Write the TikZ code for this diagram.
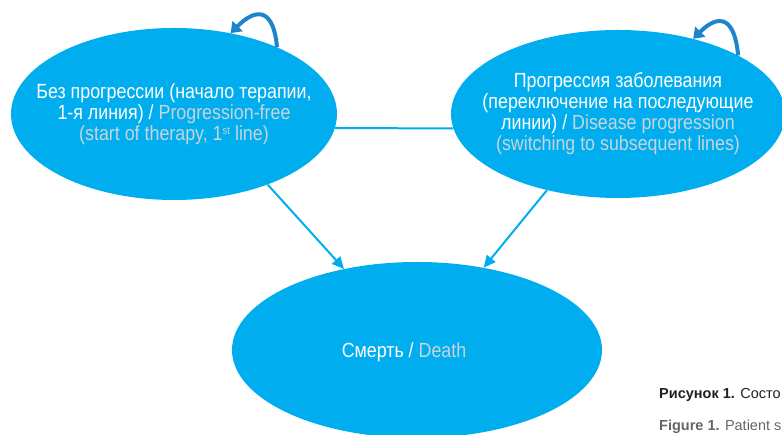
\documentclass[tikz,border=0pt]{standalone}
\usepackage{fontspec}
\setmainfont{Liberation Sans}[FakeStretch=0.87]
\newfontfamily\capfont{Liberation Sans}
\usetikzlibrary{arrows.meta,shapes.geometric}
\definecolor{stateblue}{RGB}{0,174,239}
\definecolor{loopblue}{RGB}{30,132,204}
\definecolor{engray}{RGB}{200,212,220}
\definecolor{capdark}{RGB}{35,31,32}
\definecolor{capgray}{RGB}{100,101,104}
\newcommand{\stsup}{\raisebox{6pt}{\fontsize{11}{11}\selectfont st}}
\tikzset{
  state/.style={ellipse,fill=stateblue,text=white,inner xsep=-45pt,inner ysep=-10pt,
    align=center,font=\fontsize{20.5}{21}\selectfont},
  flow/.style={stateblue,line width=2pt},
  tip/.style={-{Triangle[length=12pt,width=11pt]}},
  stay/.style={loopblue,line width=4pt,-{Triangle[length=10pt,width=14pt]}},
  caption/.style={anchor=base west,inner sep=0pt,font=\capfont\fontsize{14.5}{15}\selectfont},
}
\begin{document}
\begin{tikzpicture}[x=1pt,y=1pt]
  \useasboundingbox (0,0) rectangle (782,435);
  \clip (0,0) rectangle (782,435);
  % states
  \node[state,minimum width=326pt,minimum height=172pt] (PF) at (174,321)
    {Без прогрессии (начало терапии,\\1-я линия) / \textcolor{engray}{Progression-free}\\
     \textcolor{engray}{(start of therapy, 1\stsup\ line)}};
  \node[state,minimum width=334pt,minimum height=168pt] (PD) at (618,321)
    {Прогрессия заболевания\\(переключение на последующие\\
     линии) / \textcolor{engray}{Disease progression}\\
     \textcolor{engray}{(switching to subsequent lines)}};
  \node[state,minimum width=370pt,minimum height=176pt] (D) at (417,85) {};
  \node[state,fill=none] (Dtext) at (404,83) {Смерть / \textcolor{engray}{Death}};
  % transitions
  \draw[flow] (PF.-5.3) -- (PD.185.2);
  \draw[flow,tip] (PF.-37.4) -- (D.132);
  \draw[flow,tip] (PD.227.8) -- (D.51.2);
  \draw[stay] (PF.33) to[out=95,in=45,looseness=2] (PF.55.7);
  \draw[stay] (PD.26.9) to[out=95,in=45,looseness=2] (PD.45);
  % caption
  \node[caption,text=capdark] (cap1) at (659,36) {\textbf{Рисунок 1.} Состо};
  \node[caption,text=capgray] (cap2) at (659,4) {\textbf{Figure 1.} Patient s};
\end{tikzpicture}
\end{document}
